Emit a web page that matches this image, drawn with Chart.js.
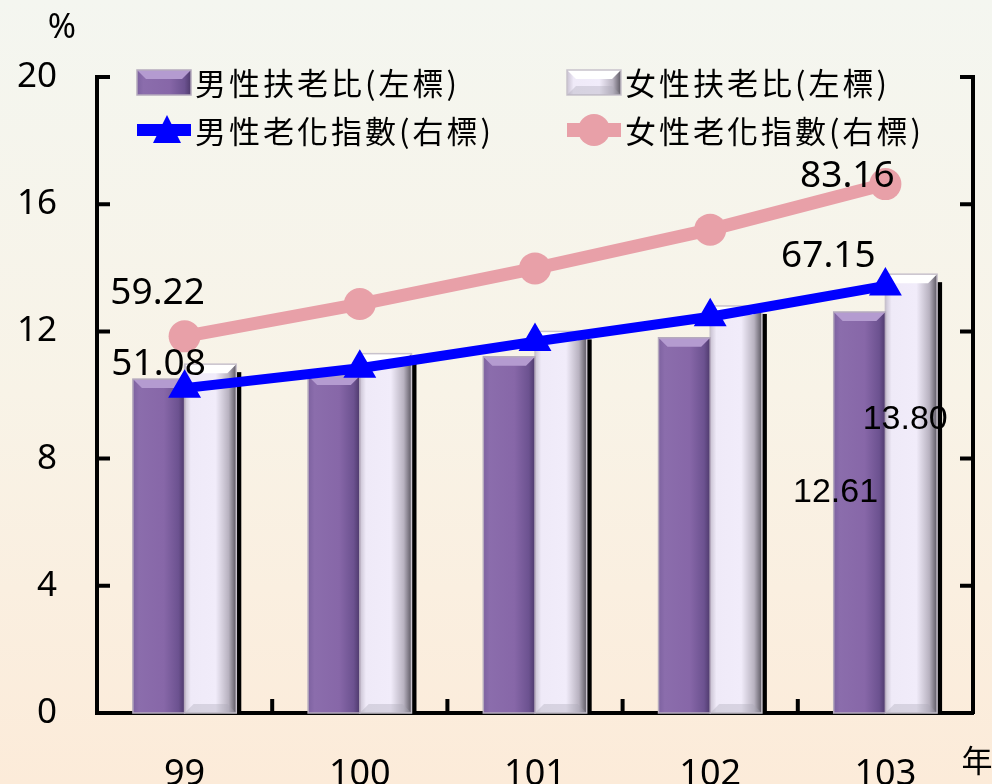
<!DOCTYPE html>
<html>
<head>
<meta charset="utf-8">
<script src="https://cdn.jsdelivr.net/npm/chart.js@4.4.1/dist/chart.umd.min.js"></script>
<style>
  html, body { margin: 0; padding: 0; background: #f7f4ea; }
  #wrap { width: 992px; height: 784px; position: relative; }
</style>
</head>
<body>
<div id="wrap"><canvas id="chart" width="992" height="784"></canvas></div>
<script>
const years = ['99', '100', '101', '102', '103'];
const maleDependency = [10.5, 10.6, 11.2, 11.8, 12.61];
const femaleDependency = [10.97, 11.3, 12.0, 12.8, 13.80];
const maleAging = [51.08, 54.2, 58.4, 62.3, 67.15];
const femaleAging = [59.22, 64.3, 69.9, 76.0, 83.16];
const leftTicks = [0, 4, 8, 12, 16, 20];
const rightTicks = [0, 20, 40, 60, 80, 100];

const numFont = '"Noto Sans", "DejaVu Sans", sans-serif';
const cjkFont = '"Noto Sans CJK TC", "Noto Sans", sans-serif';

// page background, light green-grey at top to peach at bottom
const bgPlugin = {
  id: 'bg',
  beforeDraw(chart) {
    const { ctx, width, height } = chart;
    const g = ctx.createLinearGradient(0, 0, 0, height);
    g.addColorStop(0, '#f4f6f0');
    g.addColorStop(0.5, '#f8f3e7');
    g.addColorStop(1, '#fcebd9');
    ctx.save();
    ctx.fillStyle = g;
    ctx.fillRect(0, 0, width, height);
    ctx.restore();
  }
};

// shaded, bevelled look for the bars
function shadeBar(ctx, x0, x1, top, bottom, female) {
  const w = x1 - x0;
  const g = ctx.createLinearGradient(x0, 0, x1, 0);
  if (female) {
    g.addColorStop(0, '#c9c2d2');
    g.addColorStop(0.12, '#efeaf8');
    g.addColorStop(0.6, '#f1ecfa');
    g.addColorStop(0.85, '#b8b2c0');
    g.addColorStop(1, '#5c5862');
  } else {
    g.addColorStop(0, '#7d62a0');
    g.addColorStop(0.12, '#8b6dac');
    g.addColorStop(0.6, '#8767a8');
    g.addColorStop(0.88, '#6c5290');
    g.addColorStop(1, '#4e3a6c');
  }
  ctx.fillStyle = g;
  ctx.fillRect(x0, top, w, bottom - top);
  // top bevel
  const b = 9;
  ctx.beginPath();
  ctx.moveTo(x0, top);
  ctx.lineTo(x1, top);
  ctx.lineTo(x1 - b, top + b);
  ctx.lineTo(x0 + b, top + b);
  ctx.closePath();
  ctx.fillStyle = female ? '#ffffff' : '#b49bd0';
  ctx.fill();
  ctx.strokeStyle = female ? '#c8c2cc' : '#b5aabd';
  ctx.lineWidth = 1.5;
  ctx.strokeRect(x0, top, w, bottom - top);
  if (female) {
    ctx.beginPath();
    ctx.moveTo(x0, bottom);
    ctx.lineTo(x1, bottom);
    ctx.lineTo(x1 - b, bottom - b);
    ctx.lineTo(x0 + b, bottom - b);
    ctx.closePath();
    ctx.fillStyle = 'rgba(170,165,180,0.35)';
    ctx.fill();
  }
}

const barShadePlugin = {
  id: 'barShade',
  afterDatasetDraw(chart, args) {
    const ds = chart.data.datasets[args.index];
    if (ds.type !== 'bar') return;
    const female = args.index === 1;
    const { ctx } = chart;
    ctx.save();
    args.meta.data.forEach(el => {
      const x0 = el.x - el.width / 2, x1 = el.x + el.width / 2;
      if (female) {
        ctx.fillStyle = '#000';
        ctx.fillRect(x1 - 1, el.y + 8, 6, el.base - el.y - 8);
      }
      shadeBar(ctx, x0, x1, el.y, el.base, female);
    });
    ctx.restore();
  }
};

// inward tick marks on the three axes
const ticksPlugin = {
  id: 'innerTicks',
  afterDraw(chart) {
    const { ctx, chartArea } = chart;
    const y = chart.scales.y, y1 = chart.scales.y1, x = chart.scales.x;
    ctx.save();
    ctx.strokeStyle = '#000';
    ctx.lineWidth = 4;
    ctx.beginPath();
    leftTicks.forEach(v => {
      const py = y.getPixelForValue(v);
      ctx.moveTo(chartArea.left, py);
      ctx.lineTo(chartArea.left + 13, py);
    });
    rightTicks.forEach(v => {
      const py = y1.getPixelForValue(v);
      ctx.moveTo(chartArea.right, py);
      ctx.lineTo(chartArea.right - 13, py);
    });
    for (let i = 1; i < years.length; i++) {
      const px = (x.getPixelForValue(i - 1) + x.getPixelForValue(i)) / 2;
      ctx.moveTo(px, chartArea.bottom);
      ctx.lineTo(px, chartArea.bottom - 14);
    }
    ctx.stroke();

    ctx.fillStyle = '#000';
    ctx.font = '34px ' + numFont;
    ctx.textAlign = 'center';
    ctx.textBaseline = 'middle';
    ctx.fillText('%', 62, 28);
    ctx.font = '31px ' + cjkFont;
    ctx.fillText('年', 977, 760);
    ctx.restore();
  }
};

// value labels at the ends of the series
const labelPlugin = {
  id: 'valueLabels',
  afterDraw(chart) {
    const { ctx } = chart;
    const pt = (d, i) => chart.getDatasetMeta(d).data[i];
    const last = years.length - 1;
    ctx.save();
    ctx.fillStyle = '#000';
    ctx.textAlign = 'center';
    ctx.textBaseline = 'middle';
    ctx.font = '37px ' + numFont;
    let p = pt(2, 0); ctx.fillText(maleAging[0].toFixed(2), p.x - 26, p.y - 24);
    p = pt(3, 0); ctx.fillText(femaleAging[0].toFixed(2), p.x - 27, p.y - 43);
    p = pt(2, last); ctx.fillText(maleAging[last].toFixed(2), p.x - 57, p.y - 29);
    p = pt(3, last); ctx.fillText(femaleAging[last].toFixed(2), p.x - 38, p.y - 8);
    ctx.font = '34px "Liberation Sans", Arial, sans-serif';
    p = pt(0, last); ctx.fillText(maleDependency[last].toFixed(2), p.x - 24, p.y + 181);
    p = pt(1, last); ctx.fillText(femaleDependency[last].toFixed(2), p.x - 6, p.y + 145);
    ctx.restore();
  }
};

// two-column legend inside the plot
const legendPlugin = {
  id: 'customLegend',
  afterDraw(chart) {
    const { ctx } = chart;
    const items = [
      { text: '男性扶老比(左標)', kind: 'bar', female: false, x: 137, y: 82 },
      { text: '女性扶老比(左標)', kind: 'bar', female: true, x: 567, y: 82 },
      { text: '男性老化指數(右標)', kind: 'tri', x: 137, y: 130 },
      { text: '女性老化指數(右標)', kind: 'dot', x: 567, y: 130 }
    ];
    ctx.save();
    items.forEach(it => {
      if (it.kind === 'bar') {
        shadeBar(ctx, it.x, it.x + 54, it.y - 12, it.y + 13, it.female);
      } else if (it.kind === 'tri') {
        ctx.fillStyle = '#0000ff';
        ctx.fillRect(it.x, it.y - 6, 54, 12);
        ctx.beginPath();
        ctx.moveTo(it.x + 30, it.y - 15);
        ctx.lineTo(it.x + 44, it.y + 13);
        ctx.lineTo(it.x + 16, it.y + 13);
        ctx.closePath();
        ctx.fill();
      } else {
        ctx.fillStyle = '#e8a0a8';
        ctx.fillRect(it.x, it.y - 7, 54, 14);
        ctx.beginPath();
        ctx.arc(it.x + 27, it.y, 16, 0, Math.PI * 2);
        ctx.fill();
      }
      ctx.fillStyle = '#000';
      ctx.font = '31px ' + cjkFont;
      ctx.letterSpacing = '3px';
      ctx.textAlign = 'left';
      ctx.textBaseline = 'middle';
      ctx.fillText(it.text, it.x + 58, it.y + 1);
    });
    ctx.restore();
  }
};

new Chart(document.getElementById('chart'), {
  data: {
    labels: years,
    datasets: [
      { type: 'bar', label: '男性扶老比(左標)', data: maleDependency, yAxisID: 'y',
        backgroundColor: '#8767a8', categoryPercentage: 0.59, barPercentage: 1, order: 2 },
      { type: 'bar', label: '女性扶老比(左標)', data: femaleDependency, yAxisID: 'y',
        backgroundColor: '#efeaf8', categoryPercentage: 0.59, barPercentage: 1, order: 2 },
      { type: 'line', label: '男性老化指數(右標)', data: maleAging, yAxisID: 'y1',
        borderColor: '#0000ff', backgroundColor: '#0000ff', borderWidth: 10,
        pointStyle: 'triangle', pointRadius: 15, pointBorderWidth: 4, tension: 0, order: 1 },
      { type: 'line', label: '女性老化指數(右標)', data: femaleAging, yAxisID: 'y1',
        borderColor: '#e8a0a8', backgroundColor: '#e8a0a8', borderWidth: 13,
        pointStyle: 'circle', pointRadius: 16, pointBorderWidth: 0, tension: 0, order: 0 }
    ]
  },
  options: {
    responsive: false,
    animation: false,
    layout: { padding: { top: 77, right: 0, left: 0, bottom: 0 } },
    plugins: { legend: { display: false }, tooltip: { enabled: false } },
    scales: {
      x: {
        grid: { display: false },
        border: { color: '#000', width: 4 },
        ticks: { color: '#000', font: { size: 36, family: numFont }, padding: 32 },
        afterFit(s) { s.height = 71; }
      },
      y: {
        position: 'left', min: 0, max: 20,
        afterBuildTicks(s) { s.ticks = leftTicks.map(v => ({ value: v })); },
        grid: { display: false },
        border: { color: '#000', width: 4 },
        ticks: { color: '#000', font: { size: 35, family: numFont }, padding: 32 },
        afterFit(s) { s.width = 97; }
      },
      y1: {
        position: 'right', min: 0, max: 100,
        afterBuildTicks(s) { s.ticks = rightTicks.map(v => ({ value: v })); },
        grid: { display: false },
        border: { color: '#000', width: 4 },
        ticks: { display: false },
        afterFit(s) { s.width = 15; }
      }
    }
  },
  plugins: [bgPlugin, barShadePlugin, ticksPlugin, labelPlugin, legendPlugin]
});
</script>
</body>
</html>
